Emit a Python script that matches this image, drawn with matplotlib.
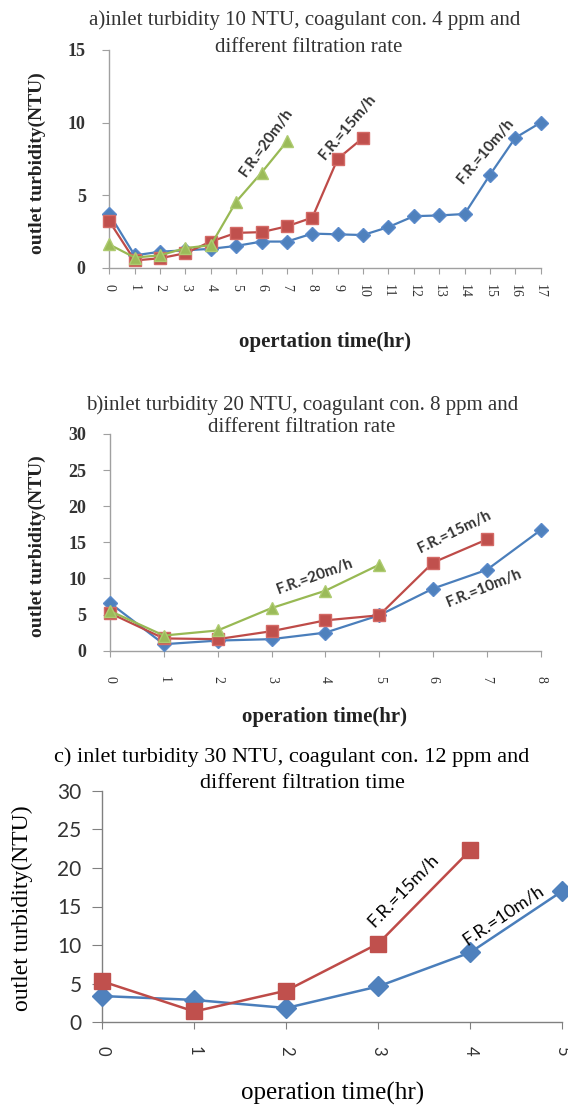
"""Outlet turbidity vs operation time - three panels."""

import numpy as np
import matplotlib
matplotlib.use("Agg")
import matplotlib.pyplot as plt
from matplotlib.font_manager import FontProperties

# Panel a: inlet 10 NTU, 4 ppm
a_time_10 = list(range(18))
a_fr10 = [3.7, 0.85, 1.1, 1.2, 1.3, 1.5, 1.8, 1.8, 2.35, 2.3, 2.25, 2.8, 3.55, 3.6, 3.7, 6.4, 8.95, 10.0]
a_time_15 = list(range(11))
a_fr15 = [3.2, 0.5, 0.65, 1.0, 1.8, 2.4, 2.45, 2.85, 3.45, 7.5, 8.95]
a_time_20 = list(range(8))
a_fr20 = [1.6, 0.7, 0.85, 1.35, 1.55, 4.55, 6.55, 8.7]

# Panel b: inlet 20 NTU, 8 ppm
b_time_10 = list(range(9))
b_fr10 = [6.6, 0.9, 1.4, 1.6, 2.5, 4.9, 8.6, 11.2, 16.7]
b_time_15 = list(range(8))
b_fr15 = [5.2, 1.7, 1.6, 2.7, 4.2, 4.9, 12.2, 15.4]
b_time_20 = list(range(6))
b_fr20 = [5.5, 2.1, 2.8, 5.9, 8.3, 11.9]

# Panel c: inlet 30 NTU, 12 ppm
c_time_10 = list(range(6))
c_fr10 = [3.4, 2.9, 1.85, 4.65, 9.05, 17.0]
c_time_15 = list(range(5))
c_fr15 = [5.3, 1.4, 4.1, 10.2, 22.3]

BLUE = "#4A7EBB"
RED = "#BE4B48"
GREEN = "#98B954"

W, H = 568, 1105
fig = plt.figure(figsize=(W / 100, H / 100), dpi=100)


def make_axes(left, right, top, bottom):
    """Axes from pixel box."""
    return fig.add_axes([left / W, 1 - bottom / H, (right - left) / W, (bottom - top) / H])


def style_axes(ax, xmax, ymax, ystep, spine_col, ytick_font, xtick_font, xpad=8):
    ax.set_xlim(0, xmax)
    ax.set_ylim(0, ymax)
    ax.set_xticks(range(xmax + 1))
    ax.set_yticks(np.arange(0, ymax + 1, ystep))
    for s in ["top", "right"]:
        ax.spines[s].set_visible(False)
    for s in ["left", "bottom"]:
        ax.spines[s].set_color(spine_col)
        ax.spines[s].set_linewidth(1.0)
    ax.tick_params(axis="y", direction="out", length=5, color=spine_col, pad=12)
    ax.tick_params(axis="x", direction="out", length=4, color=spine_col, pad=xpad)
    for lab in ax.get_yticklabels():
        lab.set_fontproperties(ytick_font)
        lab.set_color("#333333")
    for lab in ax.get_xticklabels():
        lab.set_fontproperties(xtick_font)
        lab.set_rotation(270)
        lab.set_color("#333333")


serif_b = FontProperties(family="Liberation Serif", weight="bold", size=13)
serif_s = FontProperties(family="Liberation Serif", size=10)
lato_y = FontProperties(family="Lato", size=15)
lato_x = FontProperties(family="Lato", size=12)

title_ab = dict(ha="center", va="center", family="Liberation Serif", size=15, color="#333333")
ylab_ab = dict(rotation=90, ha="center", va="center", family="Liberation Serif",
               weight="bold", size=14, color="#222222")
xlab_ab = dict(ha="center", va="center", family="Liberation Serif", weight="bold",
               size=15, color="#222222")
ann = dict(family="Lato", size=11, weight="bold", color="#333333", ha="center",
           va="center", rotation_mode="anchor")

# ---------------- Panel a ----------------
ax = make_axes(109.3, 540.7, 50, 267.7)
ax.plot(a_time_10, a_fr10, color=BLUE, lw=1.6, marker="D", ms=7, mfc="#4F81BD", mec="#5A8ACB", clip_on=False, zorder=3)
ax.plot(a_time_15, a_fr15, color=RED, lw=1.6, marker="s", ms=9, mfc="#C0504D", mec="#D46A66", clip_on=False, zorder=4)
ax.plot(a_time_20, a_fr20, color=GREEN, lw=1.6, marker="^", ms=9, mfc="#9BBB59", mec="#AECB70", clip_on=False, zorder=5)
style_axes(ax, 17, 15, 5, "#A0A0A0", serif_b, serif_s)
ax.text(6.2, 8.6, "F.R.=20m/h", rotation=54, **ann)
ax.text(9.4, 9.7, "F.R.=15m/h", rotation=50, **ann)
ax.text(14.85, 8.05, "F.R.=10m/h", rotation=50, **ann)
fig.text(305 / W, 1 - 20 / H, "a)inlet turbidity 10 NTU, coagulant con. 4 ppm and", **title_ab)
fig.text(309 / W, 1 - 48 / H, "different filtration rate", **title_ab)
fig.text(37 / W, 1 - 163 / H, "outlet turbidity(NTU)", **ylab_ab)
fig.text(325 / W, 1 - 342 / H, "opertation time(hr)", **xlab_ab)

# ---------------- Panel b ----------------
ax = make_axes(110, 540.7, 434, 650.7)
ax.plot(b_time_10, b_fr10, color=BLUE, lw=1.6, marker="D", ms=7, mfc="#4F81BD", mec="#5A8ACB", clip_on=False, zorder=3)
ax.plot(b_time_15, b_fr15, color=RED, lw=1.6, marker="s", ms=9, mfc="#C0504D", mec="#D46A66", clip_on=False, zorder=4)
ax.plot(b_time_20, b_fr20, color=GREEN, lw=1.6, marker="^", ms=9, mfc="#9BBB59", mec="#AECB70", clip_on=False, zorder=5)
style_axes(ax, 8, 30, 5, "#A0A0A0", serif_b, serif_s, xpad=14)
ax.text(3.8, 10.3, "F.R.=20m/h", rotation=20, **ann)
ax.text(6.4, 16.4, "F.R.=15m/h", rotation=26, **ann)
ax.text(6.95, 8.7, "F.R.=10m/h", rotation=22, **ann)
fig.text(302 / W, 1 - 405 / H, "b)inlet turbidity 20 NTU, coagulant con. 8 ppm and", **title_ab)
fig.text(302 / W, 1 - 428 / H, "different filtration rate", **title_ab)
fig.text(37 / W, 1 - 546 / H, "outlet turbidity(NTU)", **ylab_ab)
fig.text(325 / W, 1 - 717 / H, "operation time(hr)", **xlab_ab)

# ---------------- Panel c ----------------
ax = make_axes(102.3, 562.3, 790.7, 1022.3)
ax.plot(c_time_10, c_fr10, color=BLUE, lw=1.8, marker="D", ms=10, mfc="#4F81BD", mec="#4F81BD", clip_on=False, zorder=3)
ax.plot(c_time_15, c_fr15, color=RED, lw=1.8, marker="s", ms=12, mfc="#C0504D", mec="#C0504D", clip_on=False, zorder=4)
style_axes(ax, 5, 30, 5, "#808080", lato_y, lato_x)
ax.tick_params(axis="y", length=7, pad=8)
ax.tick_params(axis="x", length=5, pad=12)
ann_c = dict(family="Lato", size=13, color="black", ha="center", va="center", rotation_mode="anchor")
ax.text(3.27, 17.1, "F.R.=15m/h", rotation=46, **ann_c)
ax.text(4.36, 13.9, "F.R.=10m/h", rotation=34, **ann_c)
title_c = dict(ha="center", va="center", family="Liberation Serif", size=16, color="black")
fig.text(292 / W, 1 - 757 / H, "c) inlet turbidity 30 NTU, coagulant con. 12 ppm and", **title_c)
fig.text(302 / W, 1 - 783 / H, "different filtration time", **title_c)
fig.text(22 / W, 1 - 908 / H, "outlet turbidity(NTU)", rotation=90, ha="center", va="center",
         family="Liberation Serif", size=17, color="black")
fig.text(333 / W, 1 - 1093 / H, "operation time(hr)", ha="center", va="center",
         family="Liberation Serif", size=18, color="black")

fig.savefig("out.png", dpi=100, facecolor="white")
